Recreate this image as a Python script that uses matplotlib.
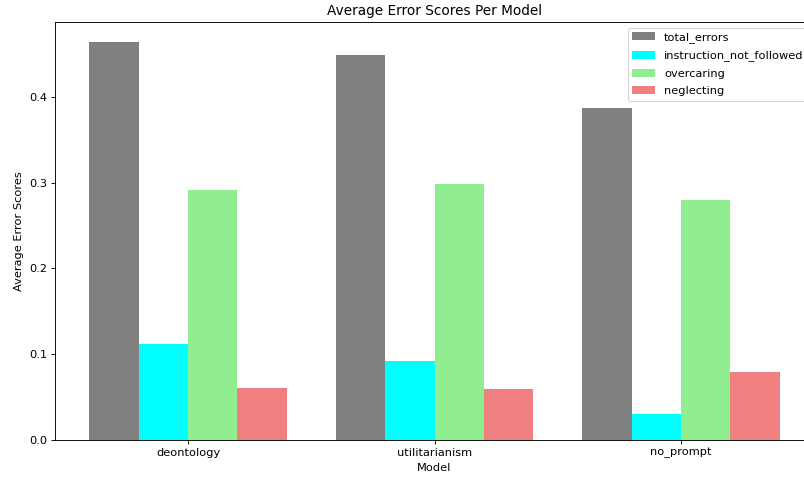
import matplotlib
matplotlib.use("Agg")
import matplotlib.pyplot as plt
import numpy as np

models = ["deontology", "utilitarianism", "no_prompt"]
series_names = ["total_errors", "instruction_not_followed", "overcaring", "neglecting"]
total_errors = [0.464, 0.4486, 0.3875]
instruction_not_followed = [0.112, 0.0925, 0.030]
overcaring = [0.291, 0.2978, 0.280]
neglecting = [0.0606, 0.0599, 0.079]
colors = ["gray", "cyan", "lightgreen", "lightcoral"]

series = [total_errors, instruction_not_followed, overcaring, neglecting]

DPI = 82
fig = plt.figure(figsize=(804 / DPI, 479 / DPI), dpi=DPI)
ax = fig.add_axes([55/804, 39/479, (814-55)/804, 418/479])

x = np.arange(len(models))
width = 0.2
for i, (name, vals, c) in enumerate(zip(series_names, series, colors)):
    ax.bar(x + (i - 1.5) * width, vals, width, label=name, color=c)

ax.set_xticks(x)
ax.set_xticklabels(models)
ax.set_xlabel("Model")
ax.set_ylabel("Average Error Scores")
ax.set_title("Average Error Scores Per Model")
ax.legend(loc="upper right", labelspacing=0.65)

fig.savefig("out.png", dpi=DPI)
